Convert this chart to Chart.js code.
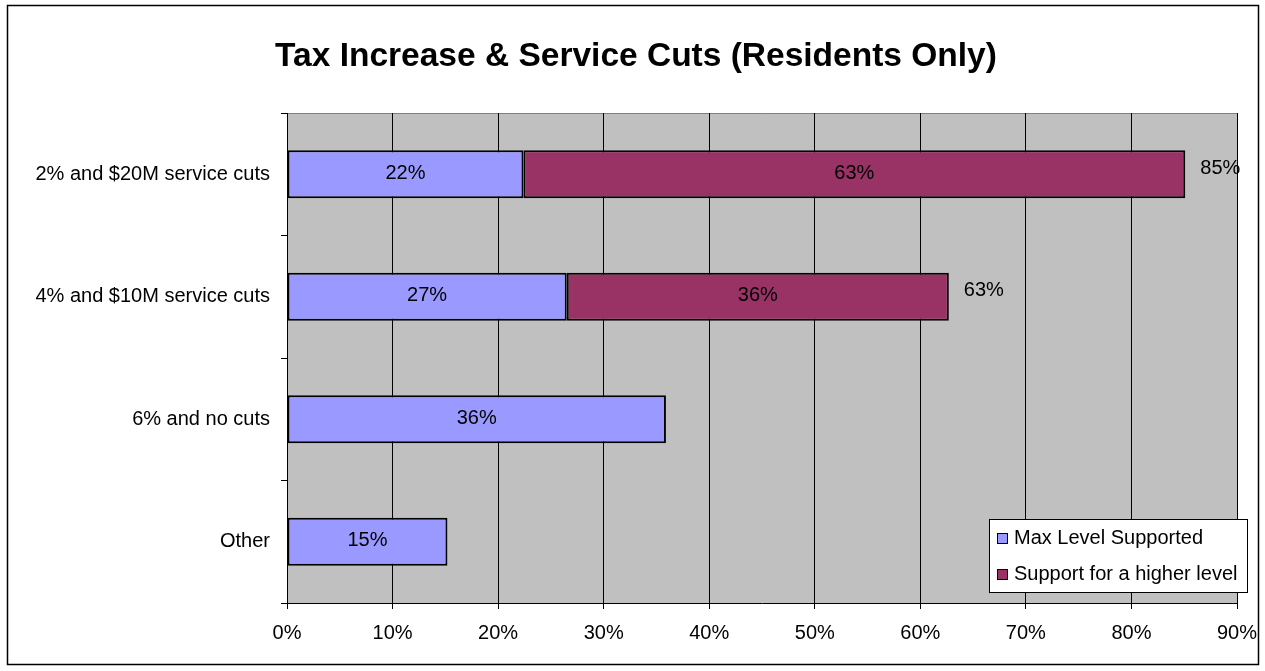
<!DOCTYPE html>
<html>
<head>
<meta charset="utf-8">
<title>Tax Increase & Service Cuts</title>
<script src="https://cdn.jsdelivr.net/npm/chart.js@4/dist/chart.umd.min.js"></script>
<style>
  body { margin: 0; background: #fff; }
  canvas { display: block; }
</style>
</head>
<body>
<canvas id="chart" width="1265" height="671"></canvas>
<script>
var ctx = document.getElementById('chart').getContext('2d');

// survey options, top to bottom
var options = ['2% and $20M service cuts', '4% and $10M service cuts', '6% and no cuts', 'Other'];
var maxLevel = [22.4, 26.5, 35.9, 15.2];
var higherLevel = [62.7, 36.2, 0, 0];
var seriesNames = ['Max Level Supported', 'Support for a higher level'];
var seriesColors = ['#9999FF', '#993366'];
var xTicks = [0, 10, 20, 30, 40, 50, 60, 70, 80, 90];

var titleText = 'Tax Increase & Service Cuts (Residents Only)';
var font = "'Liberation Sans', Arial, sans-serif";

function pct(v) { return Math.round(v) + '%'; }

// frame, title and grey plot background
var backdrop = {
  id: 'backdrop',
  beforeDraw: function(chart) {
    var c = chart.ctx, a = chart.chartArea;
    c.save();
    c.fillStyle = '#C0C0C0';
    c.fillRect(a.left, a.top, a.right - a.left, a.bottom - a.top);
    c.strokeStyle = '#808080';
    c.lineWidth = 1;
    c.beginPath();
    c.moveTo(a.left, a.top + 0.5);
    c.lineTo(a.right + 0.5, a.top + 0.5);
    c.lineTo(a.right + 0.5, a.bottom);
    c.stroke();
    c.restore();
  },
  afterDraw: function(chart) {
    var c = chart.ctx;
    c.save();
    c.strokeStyle = '#000';
    c.lineWidth = 1.5;
    c.strokeRect(7.5, 5.5, 1251, 659);
    c.fillStyle = '#000';
    c.font = 'bold 33.5px ' + font;
    c.textAlign = 'center';
    c.textBaseline = 'middle';
    c.fillText(titleText, 636, 57);
    c.restore();
  }
};

// value labels inside the segments and totals past the bar ends
var valueLabels = {
  id: 'valueLabels',
  afterDatasetsDraw: function(chart) {
    var c = chart.ctx;
    c.save();
    c.fillStyle = '#000';
    c.font = '20px ' + font;
    c.textBaseline = 'middle';
    chart.data.datasets.forEach(function(ds, di) {
      chart.getDatasetMeta(di).data.forEach(function(bar, i) {
        if (!ds.data[i]) return;
        c.textAlign = 'center';
        c.fillText(pct(ds.data[i]), (bar.base + bar.x) / 2, bar.y - 1);
      });
    });
    var top = chart.getDatasetMeta(1).data;
    options.forEach(function(o, i) {
      if (!higherLevel[i]) return;
      var total = maxLevel[i] + higherLevel[i];
      c.textAlign = 'left';
      c.fillText(pct(total), chart.scales.x.getPixelForValue(total) + 15, top[i].y - 6);
    });
    c.restore();
  }
};

// boxed legend in the lower right corner
var boxLegend = {
  id: 'boxLegend',
  afterDraw: function(chart) {
    var c = chart.ctx;
    var x = 989, y = 519, w = 258, h = 73;
    c.save();
    c.fillStyle = '#fff';
    c.fillRect(x, y, w, h);
    c.strokeStyle = '#000';
    c.lineWidth = 1;
    c.strokeRect(x + 0.5, y + 0.5, w, h);
    c.font = '20px ' + font;
    c.textBaseline = 'middle';
    c.textAlign = 'left';
    seriesNames.forEach(function(name, i) {
      var cy = y + 19 + i * 36;
      c.fillStyle = seriesColors[i];
      c.fillRect(x + 8, cy - 5, 10, 10);
      c.strokeRect(x + 8.5, cy - 4.5, 10, 10);
      c.fillStyle = '#000';
      c.fillText(name, x + 25, cy);
    });
    c.restore();
  }
};

new Chart(ctx, {
  type: 'bar',
  data: {
    labels: options,
    datasets: [
      { label: seriesNames[0], data: maxLevel, backgroundColor: seriesColors[0] },
      { label: seriesNames[1], data: higherLevel, backgroundColor: seriesColors[1] }
    ]
  },
  options: {
    indexAxis: 'y',
    responsive: false,
    animation: false,
    datasets: {
      bar: {
        borderColor: '#000',
        borderWidth: 2,
        borderSkipped: false,
        categoryPercentage: 1,
        barPercentage: 0.39
      }
    },
    layout: { padding: { top: 113, right: 28, left: 0, bottom: 0 } },
    plugins: {
      legend: { display: false },
      title: { display: false },
      tooltip: { enabled: false }
    },
    scales: {
      x: {
        stacked: true,
        min: xTicks[0],
        max: xTicks[xTicks.length - 1],
        afterBuildTicks: function(scale) {
          scale.ticks = xTicks.map(function(v) { return { value: v }; });
        },
        afterFit: function(scale) {
          scale.height = 68;
          scale.paddingLeft = 0;
          scale.paddingRight = 0;
        },
        grid: { color: '#000', tickColor: '#000', tickLength: 6, lineWidth: 1 },
        border: { color: '#000', width: 1 },
        ticks: {
          color: '#000',
          padding: 12,
          font: { family: font, size: 20 },
          callback: function(v) { return v + '%'; }
        }
      },
      y: {
        stacked: true,
        afterFit: function(scale) { scale.width = 287; },
        grid: { offset: true, drawOnChartArea: false, color: '#000', tickLength: 6 },
        border: { color: '#000', width: 1 },
        ticks: {
          color: '#000',
          padding: 11,
          font: { family: font, size: 20 }
        }
      }
    }
  },
  plugins: [backdrop, valueLabels, boxLegend]
});
</script>
</body>
</html>
